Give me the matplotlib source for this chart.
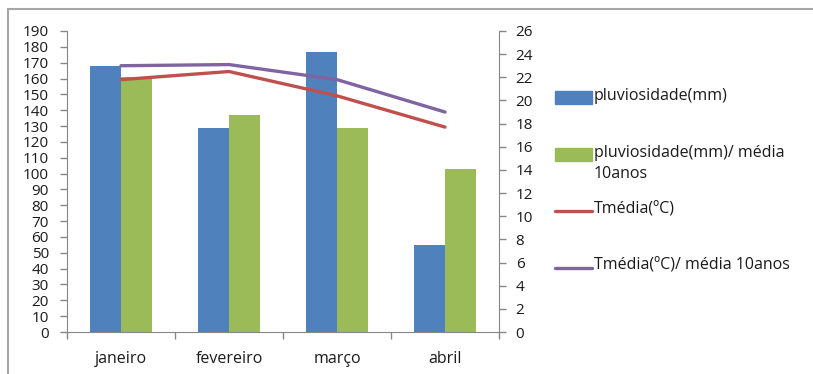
import matplotlib.pyplot as plt
from matplotlib.patches import Rectangle
from matplotlib.lines import Line2D
import numpy as np

# meses e valores
meses = ['janeiro', 'fevereiro', 'março', 'abril']
pluv = [168, 129, 177, 55]
pluv_media = [161, 137, 129, 103]
tmed = [21.8, 22.5, 20.4, 17.7]
tmed_media = [23.0, 23.1, 21.8, 19.0]

azul = '#4F81BD'
verde = '#9BBB59'
vermelho = '#C0504D'
roxo = '#8064A2'
cinza = '#868686'
txt = '#1a1a1a'

plt.rcParams['font.family'] = ['Open Sans', 'DejaVu Sans']

fig = plt.figure(figsize=(8.13, 3.74), dpi=100)
W, H = 813, 374

# moldura cinzenta à volta do gráfico
fig.add_artist(Rectangle((8 / W, -0.1), 1.2, 1 - 9.5 / H + 0.1, transform=fig.transFigure,
                         fill=False, edgecolor='#a6a6a6', lw=1.5))

ax = fig.add_axes([67 / W, 1 - 332 / H, (499 - 67) / W, (332 - 31) / H])
x = np.arange(len(meses))
w = 0.285
ax.bar(x - w / 2, pluv, w, color=azul, zorder=2)
ax.bar(x + w / 2, pluv_media, w, color=verde, zorder=2)
ax.set_xlim(-0.5, 3.5)
ax.set_ylim(0, 190)
ax.set_yticks(range(0, 191, 10))

ax2 = ax.twinx()
ax2.plot(x, tmed, color=vermelho, lw=2.4, solid_capstyle='round')
ax2.plot(x, tmed_media, color=roxo, lw=2.4, solid_capstyle='round')
ax2.set_ylim(0, 26)
ax2.set_yticks(range(0, 27, 2))

for a in (ax, ax2):
    for s in a.spines.values():
        s.set_color(cinza)
    a.spines['top'].set_visible(False)
    a.tick_params(colors=cinza, labelcolor=txt, labelsize=11, length=5, width=1)
ax.spines['right'].set_visible(False)
ax2.spines['left'].set_visible(False)
ax2.spines['bottom'].set_visible(False)

# marcas do eixo x nas fronteiras das categorias, nomes ao centro
ax.set_xticks(np.arange(-0.5, 3.6, 1))
ax.set_xticklabels([])
ax.set_xticks(x, minor=True)
ax.set_xticklabels(meses, minor=True, fontsize=11.5, color=txt)
ax.tick_params(axis='x', which='minor', length=0, pad=14)
ax.tick_params(axis='y', pad=8)
ax2.tick_params(axis='y', pad=7)

# legenda
itens = [('bar', azul, 'pluviosidade(mm)', 98),
         ('bar', verde, 'pluviosidade(mm)/ média\n10anos', 155),
         ('line', vermelho, 'Tmédia(ºC)', 211),
         ('line', roxo, 'Tmédia(ºC)/ média 10anos', 268)]
for tipo, cor, label, yp in itens:
    yf = 1 - yp / H
    if tipo == 'bar':
        fig.add_artist(Rectangle((555 / W, yf - 6.5 / H), 37 / W, 13 / H,
                                 transform=fig.transFigure, color=cor))
    else:
        fig.add_artist(Line2D([555 / W, 592 / W], [yf, yf], transform=fig.transFigure,
                              color=cor, lw=2.4, solid_capstyle='round'))
    fig.text(594 / W, yf + 10 / H, label, ha='left', va='top', fontsize=11.5,
             color=txt, linespacing=1.45)

fig.savefig('out.png', dpi=100)
